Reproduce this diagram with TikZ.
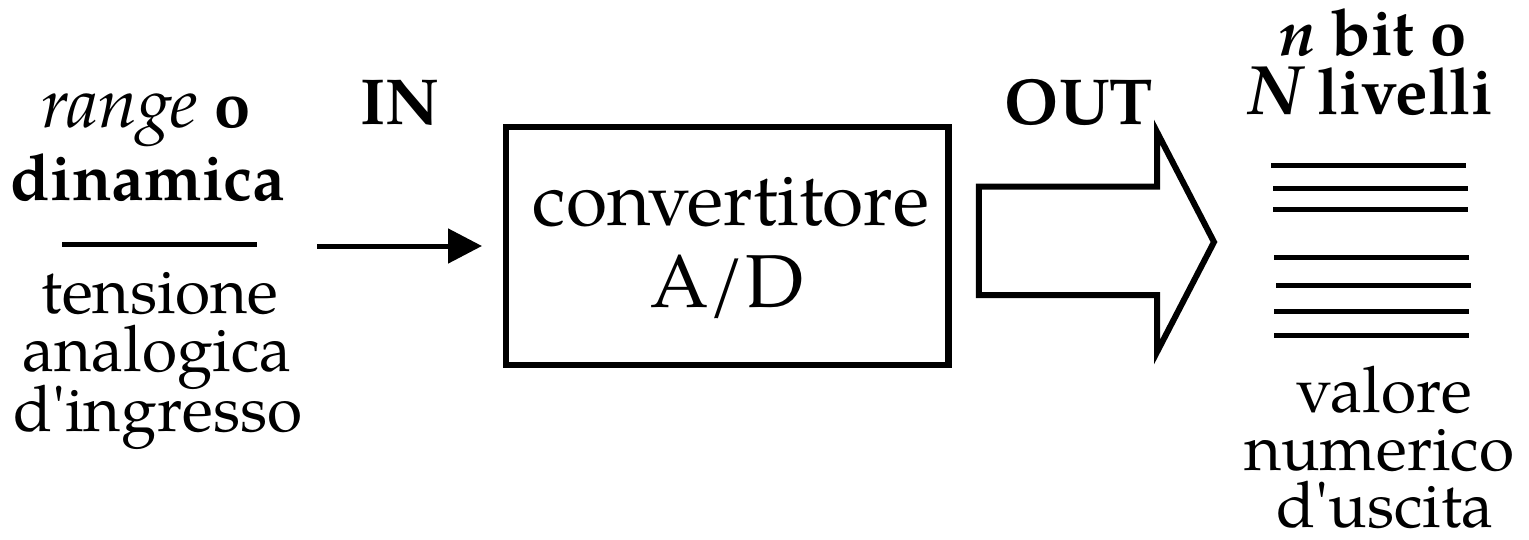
\documentclass[tikz,border=0pt]{standalone}
\usepackage{fontspec}
\setmainfont{TeX Gyre Pagella}
\usetikzlibrary{arrows.meta}
\begin{document}
\begin{tikzpicture}[x=1pt,y=-1pt,
  txt/.style={anchor=base,inner sep=0pt,font=\fontsize{64}{60}\selectfont},
  bigtxt/.style={anchor=base,inner sep=0pt,font=\fontsize{75}{82}\selectfont},
  boldtxt/.style={anchor=base,inner sep=0pt,font=\fontsize{65}{60}\selectfont\bfseries},
  blockbox/.style={draw,line width=6.5pt,inner sep=0pt,minimum width=442.5pt,minimum height=238pt},
  rulebar/.style={line width=5pt},
  level/.style={line width=4.7pt},
  inarrow/.style={line width=5pt,-{Triangle[length=34pt,width=34pt]}},
  bigarrow/.style={line width=6pt,line join=miter}]
\useasboundingbox (0,0) rectangle (1529,539);
% left labels
\node[boldtxt] (range) at (146,127) {{\fontsize{70}{60}\selectfont\mdseries\itshape range} o};
\node[boldtxt] (dinamica) at (148,200) {dinamica};
\draw[rulebar] (62,244.3) -- (257,244.3);
\node[txt] (tensione) at (160,313) {tensione};
\node[txt] (analogica) at (157,371) {analogica};
\node[txt] (ingresso) at (158,431) {d\textquotesingle ingresso};
% IN / OUT
\node[boldtxt] (in) at (400,124) {IN};
\node[boldtxt] (out) at (1079,124) {OUT};
% converter block
\node[blockbox] (adc) at (727.25,246) {};
\node[bigtxt] (conv) at (731,225) {convertitore};
\node[bigtxt] (ad) at (727,307) {A/D};
% input arrow
\coordinate (inA) at (317,246);
\draw[inarrow,shorten >=20.75pt] (inA) -- (adc.west);
% output arrow
\draw[bigarrow] (978.8,186.7) -- (1157,186.7) -- (1157,132) -- (1214,242)
  -- (1157,352) -- (1157,295) -- (978.8,295) -- cycle;
% right labels
\node[boldtxt] (nbit) at (1373,55) {\textit{n} bit o};
\node[boldtxt] (nliv) at (1370,114) {{\fontsize{70}{60}\selectfont\itshape N} livelli};
\draw[level] (1271,165.3) -- (1466,165.3);
\draw[level] (1273,188.3) -- (1468,188.3);
\draw[level] (1273,209.7) -- (1468,209.7);
\draw[level] (1274,257.7) -- (1469,257.7);
\draw[level] (1276,285.3) -- (1471,285.3);
\draw[level] (1274,311.7) -- (1469,311.7);
\draw[level] (1274,335.7) -- (1469,335.7);
\node[txt] (valore) at (1384,412) {valore};
\node[txt] (numerico) at (1379,470) {numerico};
\node[txt] (uscita) at (1385,527) {d\textquotesingle uscita};
\end{tikzpicture}
\end{document}
